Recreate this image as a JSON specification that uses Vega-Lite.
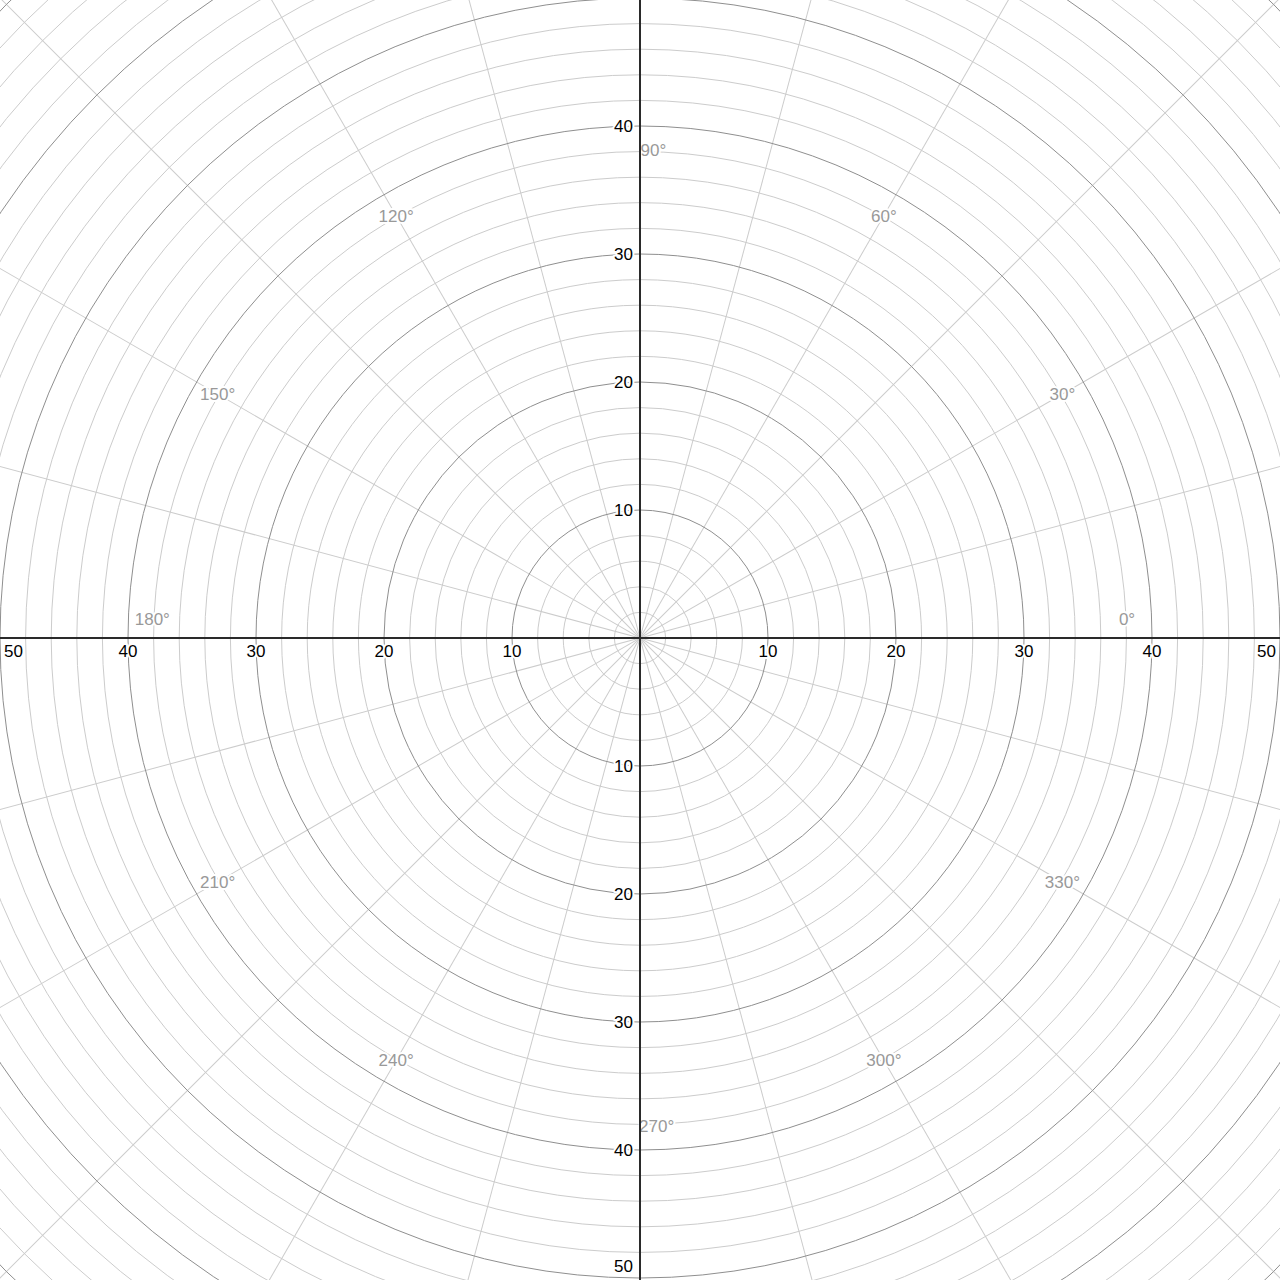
{
  "$schema": "https://vega.github.io/schema/vega-lite/v6.json",
  "width": 1280,
  "height": 1280,
  "padding": 0,
  "autosize": {"type": "none"},
  "background": "white",
  "config": {"view": {"stroke": null}},
  "datasets": {
    "minor": [{"r":2},{"r":4},{"r":6},{"r":8},{"r":12},{"r":14},{"r":16},{"r":18},{"r":22},{"r":24},{"r":26},{"r":28},{"r":32},{"r":34},{"r":36},{"r":38},{"r":42},{"r":44},{"r":46},{"r":48},{"r":52},{"r":54},{"r":56},{"r":58},{"r":62},{"r":64},{"r":66},{"r":68},{"r":72}],
    "major": [{"r":10},{"r":20},{"r":30},{"r":40},{"r":50},{"r":60},{"r":70}],
    "spokes": [{"a":0},{"a":15},{"a":30},{"a":45},{"a":60},{"a":75},{"a":90},{"a":105},{"a":120},{"a":135},{"a":150},{"a":165}],
    "origin": [{"o":0}],
    "xlabels": [{"v":-40,"t":"40"},{"v":-30,"t":"30"},{"v":-20,"t":"20"},{"v":-10,"t":"10"},{"v":10,"t":"10"},{"v":20,"t":"20"},{"v":30,"t":"30"},{"v":40,"t":"40"}],
    "xleft": [{"v":-50,"t":"50"}],
    "xright": [{"v":50,"t":"50"}],
    "ylabels": [{"v":40,"t":"40"},{"v":30,"t":"30"},{"v":20,"t":"20"},{"v":10,"t":"10"},{"v":-10,"t":"10"},{"v":-20,"t":"20"},{"v":-30,"t":"30"},{"v":-40,"t":"40"}],
    "ybottom": [{"v":-50,"t":"50"}],
    "angles": [
      {"t":"0°","x":38.05,"y":1.45},
      {"t":"30°","x":33.0,"y":19.05},
      {"t":"60°","x":19.05,"y":33.0},
      {"t":"90°","x":1.05,"y":38.1},
      {"t":"120°","x":-19.05,"y":33.0},
      {"t":"150°","x":-33.0,"y":19.05},
      {"t":"180°","x":-38.1,"y":1.45},
      {"t":"210°","x":-33.0,"y":-19.05},
      {"t":"240°","x":-19.05,"y":-33.0},
      {"t":"270°","x":1.3,"y":-38.1},
      {"t":"300°","x":19.05,"y":-33.0},
      {"t":"330°","x":33.0,"y":-19.05}
    ]
  },
  "layer": [
    {
      "data": {"name": "spokes"},
      "mark": {"type": "point", "shape": "stroke", "size": 4000000, "filled": false, "stroke": "#cccccc", "strokeWidth": 1, "opacity": 1, "clip": true},
      "encoding": {
        "x": {"datum": 0, "type": "quantitative", "scale": {"domain": [-50, 50], "nice": false, "zero": false}, "axis": null},
        "y": {"datum": 0, "type": "quantitative", "scale": {"domain": [-50.15625, 49.84375], "nice": false, "zero": false}, "axis": null},
        "angle": {"field": "a", "type": "quantitative", "scale": {"domain": [0, 360], "range": [0, 360]}, "legend": null}
      }
    },
    {
      "data": {"name": "minor"},
      "mark": {"type": "point", "shape": "circle", "filled": false, "stroke": "#cccccc", "strokeWidth": 1, "opacity": 1, "clip": true},
      "encoding": {
        "x": {"datum": 0, "type": "quantitative", "scale": {"domain": [-50, 50], "nice": false, "zero": false}, "axis": null},
        "y": {"datum": 0, "type": "quantitative", "scale": {"domain": [-50.15625, 49.84375], "nice": false, "zero": false}, "axis": null},
        "size": {"field": "r", "type": "quantitative", "scale": {"type": "pow", "exponent": 2, "domain": [0, 50], "range": [0, 1638400]}, "legend": null}
      }
    },
    {
      "data": {"name": "major"},
      "mark": {"type": "point", "shape": "circle", "filled": false, "stroke": "#8f8f8f", "strokeWidth": 1, "opacity": 1, "clip": true},
      "encoding": {
        "x": {"datum": 0, "type": "quantitative", "scale": {"domain": [-50, 50], "nice": false, "zero": false}, "axis": null},
        "y": {"datum": 0, "type": "quantitative", "scale": {"domain": [-50.15625, 49.84375], "nice": false, "zero": false}, "axis": null},
        "size": {"field": "r", "type": "quantitative", "scale": {"type": "pow", "exponent": 2, "domain": [0, 50], "range": [0, 1638400]}, "legend": null}
      }
    },
    {
      "data": {"name": "angles"},
      "mark": {"type": "text", "font": "Liberation Sans", "fontSize": 17, "align": "center", "baseline": "alphabetic", "dy": 6, "fill": "white", "stroke": "white", "strokeWidth": 4, "strokeJoin": "round"},
      "encoding": {
        "x": {"field": "x", "type": "quantitative", "scale": {"domain": [-50, 50], "nice": false, "zero": false}, "axis": null},
        "y": {"field": "y", "type": "quantitative", "scale": {"domain": [-50.15625, 49.84375], "nice": false, "zero": false}, "axis": null},
        "text": {"field": "t"}
      }
    },
    {
      "data": {"name": "angles"},
      "mark": {"type": "text", "font": "Liberation Sans", "fontSize": 17, "align": "center", "baseline": "alphabetic", "dy": 6, "fill": "#999999"},
      "encoding": {
        "x": {"field": "x", "type": "quantitative", "scale": {"domain": [-50, 50], "nice": false, "zero": false}, "axis": null},
        "y": {"field": "y", "type": "quantitative", "scale": {"domain": [-50.15625, 49.84375], "nice": false, "zero": false}, "axis": null},
        "text": {"field": "t"}
      }
    },
    {
      "data": {"name": "origin"},
      "mark": {"type": "rule", "color": "#2a2a2a", "strokeWidth": 2},
      "encoding": {
        "y": {"field": "o", "type": "quantitative", "scale": {"domain": [-50.15625, 49.84375], "nice": false, "zero": false}, "axis": null}
      }
    },
    {
      "data": {"name": "origin"},
      "mark": {"type": "rule", "color": "#2a2a2a", "strokeWidth": 2},
      "encoding": {
        "x": {"field": "o", "type": "quantitative", "scale": {"domain": [-50, 50], "nice": false, "zero": false}, "axis": null}
      }
    },
    {
      "data": {"name": "xlabels"},
      "mark": {"type": "text", "font": "Liberation Sans", "fontSize": 17, "align": "center", "baseline": "alphabetic", "dy": 19, "fill": "white", "stroke": "white", "strokeWidth": 4, "strokeJoin": "round"},
      "encoding": {
        "x": {"field": "v", "type": "quantitative", "scale": {"domain": [-50, 50], "nice": false, "zero": false}, "axis": null},
        "y": {"datum": 0, "type": "quantitative", "scale": {"domain": [-50.15625, 49.84375], "nice": false, "zero": false}, "axis": null},
        "text": {"field": "t"}
      }
    },
    {
      "data": {"name": "xlabels"},
      "mark": {"type": "text", "font": "Liberation Sans", "fontSize": 17, "align": "center", "baseline": "alphabetic", "dy": 19, "fill": "#000000"},
      "encoding": {
        "x": {"field": "v", "type": "quantitative", "scale": {"domain": [-50, 50], "nice": false, "zero": false}, "axis": null},
        "y": {"datum": 0, "type": "quantitative", "scale": {"domain": [-50.15625, 49.84375], "nice": false, "zero": false}, "axis": null},
        "text": {"field": "t"}
      }
    },
    {
      "data": {"name": "xleft"},
      "mark": {"type": "text", "font": "Liberation Sans", "fontSize": 17, "align": "left", "baseline": "alphabetic", "dx": 4, "dy": 19, "fill": "white", "stroke": "white", "strokeWidth": 4, "strokeJoin": "round"},
      "encoding": {
        "x": {"field": "v", "type": "quantitative", "scale": {"domain": [-50, 50], "nice": false, "zero": false}, "axis": null},
        "y": {"datum": 0, "type": "quantitative", "scale": {"domain": [-50.15625, 49.84375], "nice": false, "zero": false}, "axis": null},
        "text": {"field": "t"}
      }
    },
    {
      "data": {"name": "xleft"},
      "mark": {"type": "text", "font": "Liberation Sans", "fontSize": 17, "align": "left", "baseline": "alphabetic", "dx": 4, "dy": 19, "fill": "#000000"},
      "encoding": {
        "x": {"field": "v", "type": "quantitative", "scale": {"domain": [-50, 50], "nice": false, "zero": false}, "axis": null},
        "y": {"datum": 0, "type": "quantitative", "scale": {"domain": [-50.15625, 49.84375], "nice": false, "zero": false}, "axis": null},
        "text": {"field": "t"}
      }
    },
    {
      "data": {"name": "xright"},
      "mark": {"type": "text", "font": "Liberation Sans", "fontSize": 17, "align": "right", "baseline": "alphabetic", "dx": -4, "dy": 19, "fill": "white", "stroke": "white", "strokeWidth": 4, "strokeJoin": "round"},
      "encoding": {
        "x": {"field": "v", "type": "quantitative", "scale": {"domain": [-50, 50], "nice": false, "zero": false}, "axis": null},
        "y": {"datum": 0, "type": "quantitative", "scale": {"domain": [-50.15625, 49.84375], "nice": false, "zero": false}, "axis": null},
        "text": {"field": "t"}
      }
    },
    {
      "data": {"name": "xright"},
      "mark": {"type": "text", "font": "Liberation Sans", "fontSize": 17, "align": "right", "baseline": "alphabetic", "dx": -4, "dy": 19, "fill": "#000000"},
      "encoding": {
        "x": {"field": "v", "type": "quantitative", "scale": {"domain": [-50, 50], "nice": false, "zero": false}, "axis": null},
        "y": {"datum": 0, "type": "quantitative", "scale": {"domain": [-50.15625, 49.84375], "nice": false, "zero": false}, "axis": null},
        "text": {"field": "t"}
      }
    },
    {
      "data": {"name": "ylabels"},
      "mark": {"type": "text", "font": "Liberation Sans", "fontSize": 17, "align": "right", "baseline": "alphabetic", "dx": -7, "dy": 6, "fill": "white", "stroke": "white", "strokeWidth": 4, "strokeJoin": "round"},
      "encoding": {
        "x": {"datum": 0, "type": "quantitative", "scale": {"domain": [-50, 50], "nice": false, "zero": false}, "axis": null},
        "y": {"field": "v", "type": "quantitative", "scale": {"domain": [-50.15625, 49.84375], "nice": false, "zero": false}, "axis": null},
        "text": {"field": "t"}
      }
    },
    {
      "data": {"name": "ylabels"},
      "mark": {"type": "text", "font": "Liberation Sans", "fontSize": 17, "align": "right", "baseline": "alphabetic", "dx": -7, "dy": 6, "fill": "#000000"},
      "encoding": {
        "x": {"datum": 0, "type": "quantitative", "scale": {"domain": [-50, 50], "nice": false, "zero": false}, "axis": null},
        "y": {"field": "v", "type": "quantitative", "scale": {"domain": [-50.15625, 49.84375], "nice": false, "zero": false}, "axis": null},
        "text": {"field": "t"}
      }
    },
    {
      "data": {"name": "ybottom"},
      "mark": {"type": "text", "font": "Liberation Sans", "fontSize": 17, "align": "right", "baseline": "alphabetic", "dx": -7, "dy": -6, "fill": "white", "stroke": "white", "strokeWidth": 4, "strokeJoin": "round"},
      "encoding": {
        "x": {"datum": 0, "type": "quantitative", "scale": {"domain": [-50, 50], "nice": false, "zero": false}, "axis": null},
        "y": {"field": "v", "type": "quantitative", "scale": {"domain": [-50.15625, 49.84375], "nice": false, "zero": false}, "axis": null},
        "text": {"field": "t"}
      }
    },
    {
      "data": {"name": "ybottom"},
      "mark": {"type": "text", "font": "Liberation Sans", "fontSize": 17, "align": "right", "baseline": "alphabetic", "dx": -7, "dy": -6, "fill": "#000000"},
      "encoding": {
        "x": {"datum": 0, "type": "quantitative", "scale": {"domain": [-50, 50], "nice": false, "zero": false}, "axis": null},
        "y": {"field": "v", "type": "quantitative", "scale": {"domain": [-50.15625, 49.84375], "nice": false, "zero": false}, "axis": null},
        "text": {"field": "t"}
      }
    }
  ]
}
